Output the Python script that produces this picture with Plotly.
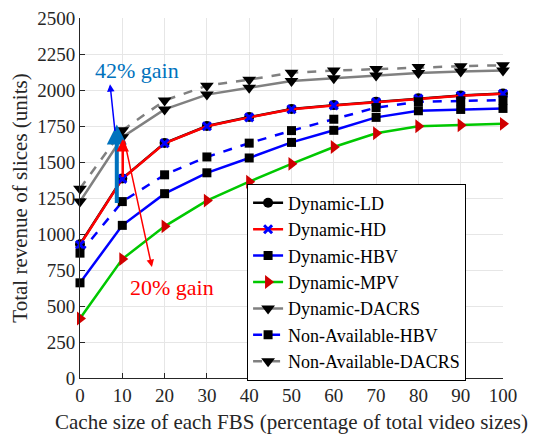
import plotly.graph_objects as go

cache = [0, 10, 20, 30, 40, 50, 60, 70, 80, 90, 100]

dyn_ld = [929, 1385, 1632, 1750, 1812, 1868, 1895, 1918, 1942, 1962, 1976]
dyn_hd = [925, 1383, 1630, 1748, 1810, 1866, 1893, 1916, 1940, 1960, 1974]
dyn_hbv = [661, 1060, 1280, 1425, 1528, 1636, 1720, 1810, 1856, 1865, 1872]
dyn_mpv = [413, 826, 1053, 1232, 1363, 1487, 1604, 1700, 1748, 1755, 1765]
dyn_dacrs = [1225, 1672, 1865, 1968, 2016, 2062, 2082, 2100, 2118, 2128, 2136]
na_hbv = [867, 1225, 1411, 1535, 1631, 1718, 1797, 1878, 1918, 1925, 1930]
na_dacrs = [1315, 1720, 1927, 2030, 2072, 2120, 2135, 2145, 2160, 2165, 2172]

x_ticks = [0, 10, 20, 30, 40, 50, 60, 70, 80, 90, 100]
y_ticks = [0, 250, 500, 750, 1000, 1250, 1500, 1750, 2000, 2250, 2500]

FONT = "Liberation Serif, Times New Roman, serif"

fig = go.Figure()

def add(name, y, color, dash, symbol, mcolor, msize, mline=0):
    fig.add_trace(go.Scatter(
        x=cache, y=y, name=name, mode="lines+markers",
        line=dict(color=color, width=2.5, dash=dash),
        marker=dict(symbol=symbol, color=mcolor, size=msize,
                    line=dict(width=mline, color=mcolor)),
        cliponaxis=False,
    ))

add("Dynamic-LD", dyn_ld, "black", "solid", "circle", "black", 10)
add("Dynamic-HD", dyn_hd, "#FF0000", "solid", "x-thin", "#0000FF", 8, 3)
add("Dynamic-HBV", dyn_hbv, "#0000FF", "solid", "square", "black", 9)
add("Dynamic-MPV", dyn_mpv, "#00C800", "solid", "triangle-right", "#D00000", 12)
add("Dynamic-DACRS", dyn_dacrs, "#808080", "solid", "triangle-down", "black", 12)
add("Non-Available-HBV", na_hbv, "#0000FF", "dash", "square", "black", 9)
add("Non-Available-DACRS", na_dacrs, "#808080", "dash", "triangle-down", "black", 12)

# Arrows and gain labels
fig.add_annotation(x=8.7, y=1760, ax=8.7, ay=1205, xref="x", yref="y",
                   axref="x", ayref="y", text="", showarrow=True,
                   arrowhead=2, arrowsize=1, arrowwidth=4, arrowcolor="#0072BD")
fig.add_annotation(x=7.1, y=2040, ax=8.3, ay=1705, xref="x", yref="y",
                   axref="x", ayref="y", text="", showarrow=True,
                   arrowhead=2, arrowsize=1, arrowwidth=1.5, arrowcolor="#0000FF")
fig.add_annotation(x=10.1, y=1660, ax=10.1, ay=1385, xref="x", yref="y",
                   axref="x", ayref="y", text="", showarrow=True,
                   arrowhead=2, arrowsize=1, arrowwidth=2.5, arrowcolor="#FF0000")
fig.add_annotation(x=17.0, y=770, ax=10.4, ay=1660, xref="x", yref="y",
                   axref="x", ayref="y", text="", showarrow=True,
                   arrowhead=2, arrowsize=1, arrowwidth=1.5, arrowcolor="#FF0000")
fig.add_annotation(x=13.5, y=2135, xref="x", yref="y", text="42% gain",
                   showarrow=False, font=dict(family=FONT, size=22, color="#0072BD"))
fig.add_annotation(x=21.7, y=626, xref="x", yref="y", text="20% gain",
                   showarrow=False, font=dict(family=FONT, size=22, color="#FF0000"))

axis_common = dict(
    showgrid=True, gridcolor="#E6E6E6", gridwidth=1,
    showline=True, linecolor="#262626", linewidth=1,
    ticks="inside", ticklen=5, tickcolor="#262626",
    mirror=False, zeroline=False, automargin=False,
    ticklabeloverflow="allow",
    tickfont=dict(family=FONT, size=19, color="#262626"),
)

fig.update_xaxes(range=[0, 100], tickvals=x_ticks,
                 title=dict(text="Cache size of each FBS (percentage of total video sizes)",
                            font=dict(family=FONT, size=21, color="#262626")),
                 **axis_common)
fig.update_yaxes(range=[0, 2500], tickvals=y_ticks,
                 title=dict(text="Total revenue of slices (units)",
                            font=dict(family=FONT, size=21, color="#262626")),
                 **axis_common)

fig.update_layout(
    width=535, height=426,
    margin=dict(l=72, r=40, t=10, b=56),
    paper_bgcolor="white", plot_bgcolor="white",
    font=dict(family=FONT, color="#262626"),
    legend=dict(x=0.395, y=0.54, xanchor="left", yanchor="top",
                bgcolor="white", bordercolor="black", borderwidth=1,
                font=dict(family=FONT, size=18, color="black"),
                tracegroupgap=0, itemwidth=30),
    showlegend=True,
)

fig.write_html("out.html")
